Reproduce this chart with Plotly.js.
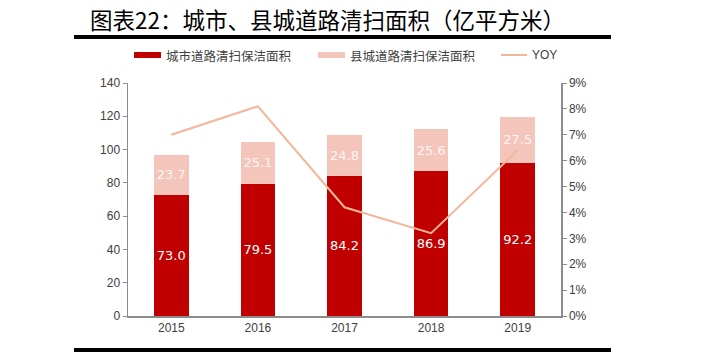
<!DOCTYPE html>
<html>
<head>
<meta charset="utf-8">
<script src="https://cdn.plot.ly/plotly-3.0.1.min.js"></script>
<style>html,body{margin:0;padding:0;background:#fff;}#chart{width:703px;height:357px;}</style>
</head>
<body>
<div id="chart"></div>
<script>
const years = ['2015', '2016', '2017', '2018', '2019'];
const cityArea = [73.0, 79.5, 84.2, 86.9, 92.2];
const countyArea = [23.7, 25.1, 24.8, 25.6, 27.5];
const yoy = [0.070, 0.081, 0.042, 0.032, 0.064];
const seriesNames = ['城市道路清扫保洁面积', '县城道路清扫保洁面积', 'YOY'];
const titleText = '图表22：城市、县城道路清扫面积（亿平方米）';

const RED = '#C00000', PINK = '#F4C5BA', LINE = '#F4B69A';
const cjk = '"Noto Sans CJK SC", sans-serif';
const latin = '"Liberation Sans", Arial, sans-serif';
const labelFont = '"DejaVu Sans", sans-serif';

const traces = [
  {type:'bar', x:years, y:cityArea, name:seriesNames[0], marker:{color:RED}, width:0.4,
   text:cityArea.map(v=>v.toFixed(1)), textposition:'inside', insidetextanchor:'middle', textangle:0,
   constraintext:'none',
   textfont:{family:labelFont, size:13, color:'#ffffff'}},
  {type:'bar', x:years, y:countyArea, name:seriesNames[1], marker:{color:PINK}, width:0.4,
   text:countyArea.map(v=>v.toFixed(1)), textposition:'inside', insidetextanchor:'middle', textangle:0,
   constraintext:'none',
   textfont:{family:labelFont, size:13, color:'rgba(255,255,255,0.85)'}},
  {type:'scatter', mode:'lines', x:years, y:yoy, yaxis:'y2', name:seriesNames[2],
   line:{color:LINE, width:2}}
];

// paper coords relative to plot area
const L=128, R=561, T=83, B=316;
function X(p){return (p-L)/(R-L);}
function Y(p){return (B-p)/(B-T);}

const layout = {
  width:703, height:357,
  margin:{l:L, r:703-R, t:T, b:357-B},
  paper_bgcolor:'#fff', plot_bgcolor:'#fff',
  showlegend:false, barmode:'stack',
  uniformtext:{mode:false},
  xaxis:{type:'category', showline:true, linecolor:'#8c8c8c', linewidth:1.5, ticks:'',
         tickfont:{family:latin, size:12, color:'#404040'}, showgrid:false, zeroline:false},
  yaxis:{range:[0,140], dtick:20, showline:true, linecolor:'#8c8c8c', linewidth:1.5,
         ticks:'outside', ticklen:4, tickcolor:'#8c8c8c', showgrid:false, zeroline:false,
         tickfont:{family:latin, size:12, color:'#404040'}},
  yaxis2:{range:[0,0.09], dtick:0.01, tickformat:'.0%', overlaying:'y', side:'right',
          showline:true, linecolor:'#8c8c8c', linewidth:1.5, ticks:'outside', ticklen:4,
          tickcolor:'#8c8c8c', showgrid:false, zeroline:false,
          tickfont:{family:latin, size:12, color:'#404040'}},
  shapes:[
    {type:'line', xref:'paper', yref:'paper', x0:X(74), x1:X(611), y0:Y(37), y1:Y(37), line:{color:'#000', width:4}},
    {type:'line', xref:'paper', yref:'paper', x0:X(74), x1:X(611), y0:Y(350), y1:Y(350), line:{color:'#000', width:4}},
    {type:'rect', xref:'paper', yref:'paper', x0:X(134), x1:X(161), y0:Y(52), y1:Y(58), fillcolor:RED, line:{width:0}},
    {type:'rect', xref:'paper', yref:'paper', x0:X(318), x1:X(345), y0:Y(52), y1:Y(58), fillcolor:PINK, line:{width:0}},
    {type:'line', xref:'paper', yref:'paper', x0:X(501), x1:X(527), y0:Y(55), y1:Y(55), line:{color:LINE, width:2}}
  ],
  annotations:[
    {text:titleText, xref:'paper', yref:'paper', x:X(88), y:Y(19), xanchor:'left', yanchor:'middle',
     showarrow:false, font:{family:cjk, size:22.5, color:'#000'}},
    {text:seriesNames[0], xref:'paper', yref:'paper', x:X(164), y:Y(55), xanchor:'left', yanchor:'middle',
     showarrow:false, font:{family:cjk, size:12.5, color:'#404040'}},
    {text:seriesNames[1], xref:'paper', yref:'paper', x:X(348), y:Y(55), xanchor:'left', yanchor:'middle',
     showarrow:false, font:{family:cjk, size:12.5, color:'#404040'}},
    {text:seriesNames[2], xref:'paper', yref:'paper', x:X(530), y:Y(55), xanchor:'left', yanchor:'middle',
     showarrow:false, font:{family:latin, size:12, color:'#404040'}}
  ]
};

Plotly.newPlot('chart', traces, layout, {displayModeBar:false, staticPlot:true});
</script>
</body>
</html>
